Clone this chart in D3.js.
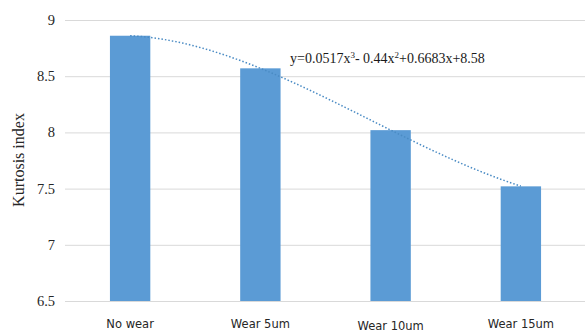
<!DOCTYPE html>
<html><head><meta charset="utf-8">
<script src="https://cdn.jsdelivr.net/npm/d3@7"></script>
<style>body{margin:0;background:#fff}svg{display:block}</style>
</head><body>
<svg id="c" width="586" height="332"></svg>
<script>
const categories = ["No wear", "Wear 5um", "Wear 10um", "Wear 15um"];
const kurtosis = [8.86, 8.57, 8.02, 7.52];
const yTicks = [6.5, 7, 7.5, 8, 8.5, 9];
const trendCoef = [0.0517, -0.44, 0.6683, 8.58]; // cubic fit shown in the chart

const SERIF = "'Liberation Serif', 'Times New Roman', serif";
const SANS = "'DejaVu Sans', Verdana, sans-serif";

const svg = d3.select("#c");
const m = {l: 65, r: 0, t: 20, b: 31};
const W = 586, H = 332;
const x = d3.scaleBand().domain(categories).range([m.l, W - m.r]).paddingInner(0.69).paddingOuter(0.345);
const y = d3.scaleLinear().domain([6.5, 9]).range([H - m.b, m.t]);

// gridlines
svg.append("g").selectAll("line").data(yTicks).join("line")
  .attr("x1", m.l).attr("x2", W - 1)
  .attr("y1", d => y(d) + 0.5).attr("y2", d => y(d) + 0.5)
  .attr("stroke", "#d9d9d9").attr("stroke-width", 1);

// y tick labels
svg.append("g").selectAll("text").data(yTicks).join("text")
  .style("font-family", SERIF)
  .attr("x", 55).attr("y", d => y(d) + 5)
  .attr("text-anchor", "end")
  .style("font-size", "14.5px").attr("fill", "#262626")
  .text(d => d);

// bars
svg.append("g").selectAll("rect").data(kurtosis).join("rect")
  .attr("x", (d, i) => x(categories[i]))
  .attr("width", x.bandwidth())
  .attr("y", d => y(d))
  .attr("height", d => y(6.5) - y(d))
  .attr("fill", "#5b9bd5");

// trend line
const poly = t => ((trendCoef[0] * t + trendCoef[1]) * t + trendCoef[2]) * t + trendCoef[3];
const xc = i => x(categories[0]) + x.bandwidth() / 2 + (i - 1) * x.step();
const pts = d3.range(1, 4.001, 0.05).map(t => [xc(t), y(poly(t))]);
svg.append("path").attr("d", d3.line()(pts))
  .attr("fill", "none").attr("stroke", "#4a8bc4").attr("stroke-width", 1.5)
  .attr("stroke-dasharray", "1.5,2");

// x labels
svg.append("g").selectAll("text").data(categories).join("text")
  .style("font-family", SANS)
  .attr("x", d => x(d) + x.bandwidth() / 2)
  .attr("y", (d, i) => i === 2 ? 330 : 328)
  .attr("text-anchor", "middle")
  .style("font-size", "11.5px").attr("fill", "#262626")
  .text(d => d);

// y axis title
svg.append("text")
  .style("font-family", SERIF)
  .attr("transform", "translate(24,160) rotate(-90)")
  .attr("text-anchor", "middle")
  .style("font-size", "16px").attr("fill", "#262626")
  .text("Kurtosis index");

// equation
const eq = svg.append("text").style("font-family", SERIF).attr("x", 290).attr("y", 63)
  .style("font-size", "14px").attr("fill", "#1a1a1a");
eq.append("tspan").text("y=0.0517x");
eq.append("tspan").style("font-size", "9px").attr("dy", -5).text("3");
eq.append("tspan").attr("dy", 5).text("- 0.44x");
eq.append("tspan").style("font-size", "9px").attr("dy", -5).text("2");
eq.append("tspan").attr("dy", 5).text("+0.6683x+8.58");
</script>
</body></html>
